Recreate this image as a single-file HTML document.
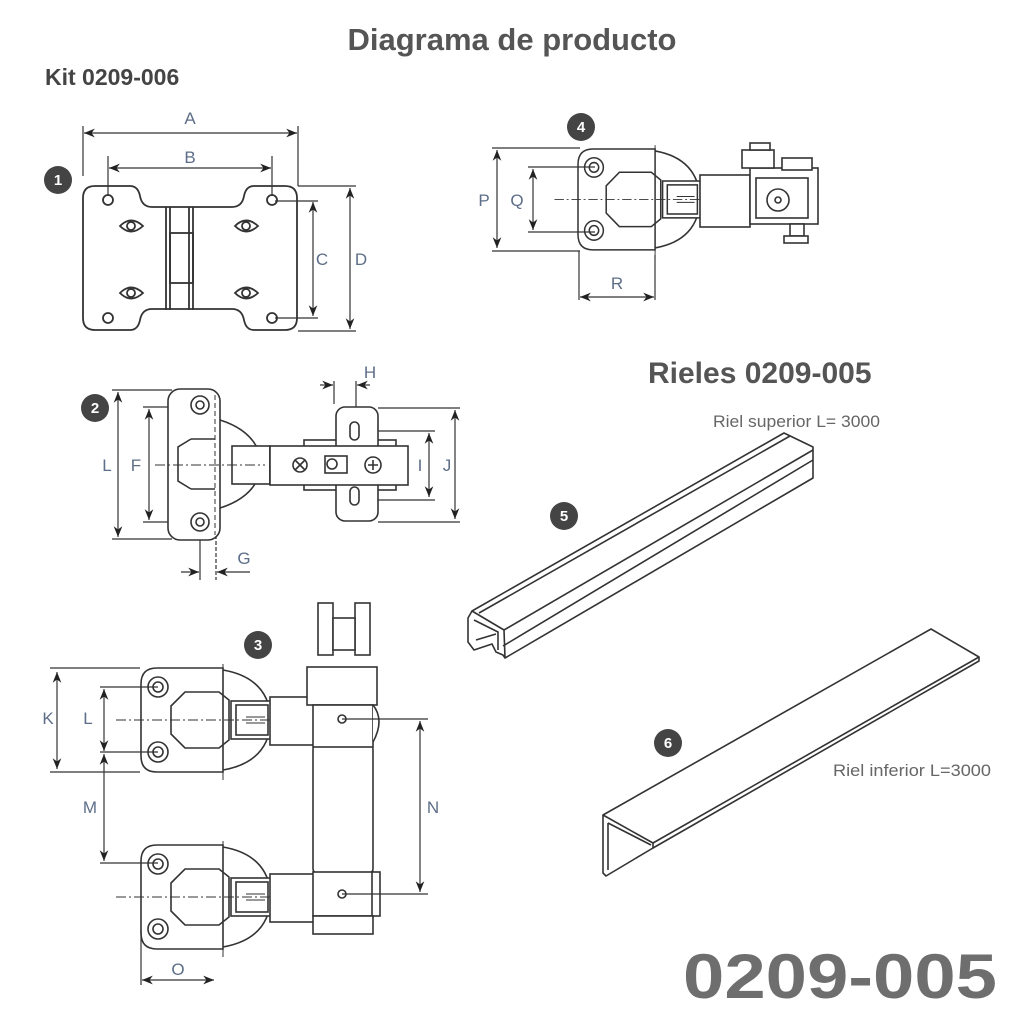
<!DOCTYPE html>
<html><head><meta charset="utf-8"><style>html,body{margin:0;padding:0;background:#fff}svg{display:block}</style></head>
<body>
<svg width="1024" height="1024" viewBox="0 0 1024 1024" xmlns="http://www.w3.org/2000/svg" font-family="Liberation Sans, sans-serif">
<defs>
<marker id="ar" viewBox="0 0 10 10" refX="10" refY="5" markerWidth="9" markerHeight="9" orient="auto-start-reverse"><path d="M0,1 L10,5 L0,9 L3,5Z" fill="#222"/></marker>
<g id="hinge" fill="none" stroke="#333" stroke-width="1.6">
 <path d="M82,0 H16 Q0,0 0,16 V88 Q0,104 16,104 H82 Z" fill="#fff"/>
 <circle cx="17" cy="19" r="10"/><circle cx="17" cy="19" r="5"/>
 <circle cx="17" cy="84" r="10"/><circle cx="17" cy="84" r="5"/>
 <path d="M30,38 L44,24 H78 L88,32 V72 L78,80 H44 L30,66 Z"/>
 <path d="M82,2 Q128,10 130,52 Q128,94 82,102"/>
 <rect x="90" y="33" width="40" height="38" fill="#fff"/>
 <rect x="95" y="37" width="32" height="30"/>
 <line x1="105" y1="49" x2="124" y2="49" stroke-width="1"/><line x1="105" y1="55" x2="124" y2="55" stroke-width="1"/>
 <line x1="-25" y1="52" x2="140" y2="52" stroke-width="1" stroke-dasharray="10,3,2,3"/>
 <line x1="82" y1="-4" x2="82" y2="112" stroke-width="1" stroke-dasharray="10,3,2,3"/>
</g>
</defs>
<g fill="#4a4a4a">
<text x="512" y="50" font-size="31" font-weight="bold" text-anchor="middle" fill="#555">Diagrama de producto</text>
<text x="45" y="85" font-size="23" font-weight="bold" fill="#444">Kit 0209-006</text>
<text x="648" y="383" font-size="30" font-weight="bold" fill="#555">Rieles 0209-005</text>
<text x="713" y="427" font-size="17" fill="#666" textLength="167" lengthAdjust="spacingAndGlyphs">Riel superior L= 3000</text>
<text x="833" y="776" font-size="17" fill="#666" textLength="158" lengthAdjust="spacingAndGlyphs">Riel inferior L=3000</text>
<text x="683" y="998" font-size="63" font-weight="bold" fill="#6e6e6e" textLength="314" lengthAdjust="spacingAndGlyphs">0209-005</text>
</g>
<g font-size="15" font-weight="bold" text-anchor="middle" fill="#fff">
<circle cx="58" cy="180" r="14" fill="#444"/><text x="58" y="185">1</text>
<circle cx="95" cy="408" r="14" fill="#444"/><text x="95" y="413">2</text>
<circle cx="258" cy="645" r="14" fill="#444"/><text x="258" y="650">3</text>
<circle cx="581" cy="127" r="14" fill="#444"/><text x="581" y="132">4</text>
<circle cx="564" cy="516" r="14" fill="#444"/><text x="564" y="521">5</text>
<circle cx="668" cy="743" r="14" fill="#444"/><text x="668" y="748">6</text>
</g>
<g font-size="17" fill="#5d6e88" text-anchor="middle">
<text x="190" y="124">A</text><text x="190" y="163">B</text><text x="322" y="265">C</text><text x="361" y="265">D</text>
<text x="107" y="471">L</text><text x="136" y="471">F</text><text x="244" y="564">G</text><text x="370" y="378">H</text><text x="420" y="471">I</text><text x="447" y="471">J</text>
<text x="484" y="206">P</text><text x="517" y="206">Q</text><text x="617" y="289">R</text>
<text x="48" y="724">K</text><text x="88" y="724">L</text><text x="90" y="813">M</text><text x="433" y="813">N</text><text x="178" y="975">O</text>
</g>
<g stroke="#333" stroke-width="1.2" fill="none">
<line x1="84" y1="133" x2="297" y2="133" marker-start="url(#ar)" marker-end="url(#ar)"/>
<line x1="83" y1="126" x2="83" y2="176"/><line x1="298" y1="126" x2="298" y2="186"/>
<line x1="109" y1="168" x2="271" y2="168" marker-start="url(#ar)" marker-end="url(#ar)"/>
<line x1="108" y1="156" x2="108" y2="196"/><line x1="272" y1="156" x2="272" y2="196"/>
<line x1="313" y1="202" x2="313" y2="316" marker-start="url(#ar)" marker-end="url(#ar)"/>
<line x1="275" y1="201" x2="318" y2="201"/><line x1="275" y1="318" x2="318" y2="318"/>
<line x1="350" y1="188" x2="350" y2="329" marker-start="url(#ar)" marker-end="url(#ar)"/>
<line x1="298" y1="186" x2="356" y2="186"/><line x1="298" y1="331" x2="356" y2="331"/>
</g>
<g stroke="#333" stroke-width="1.8" fill="none">
<path d="M95,186 H130 Q138,186 140,196 Q142,207 152,207 H232 Q242,207 244,196 Q246,186 254,186 H285 Q297,186 297,198 V318 Q297,330 285,330 H254 Q246,330 244,320 Q242,309 232,309 H152 Q142,309 140,320 Q138,330 130,330 H95 Q83,330 83,318 V198 Q83,186 95,186Z"/>
<circle cx="108" cy="200" r="5"/><circle cx="272" cy="200" r="5"/><circle cx="108" cy="318" r="5"/><circle cx="272" cy="318" r="5"/>
<g id="eye"><path d="M120,226 Q131,215 143,226 Q131,237 120,226Z"/><circle cx="131" cy="226" r="4"/></g>
<use href="#eye" x="115"/><use href="#eye" y="67"/><use href="#eye" x="115" y="67"/>
<line x1="166" y1="207" x2="166" y2="310"/><line x1="170" y1="207" x2="170" y2="310"/>
<line x1="189" y1="207" x2="189" y2="310"/><line x1="193" y1="207" x2="193" y2="310"/>
<rect x="170" y="233" width="23" height="50"/>
</g>
<g stroke="#333" stroke-width="1.2" fill="none">
<line x1="118" y1="392" x2="118" y2="537" marker-start="url(#ar)" marker-end="url(#ar)"/>
<line x1="112" y1="390" x2="172" y2="390"/><line x1="112" y1="539" x2="172" y2="539"/>
<line x1="149" y1="409" x2="149" y2="520" marker-start="url(#ar)" marker-end="url(#ar)"/>
<line x1="143" y1="407" x2="200" y2="407"/><line x1="143" y1="522" x2="200" y2="522"/>
<line x1="200" y1="522" x2="200" y2="580"/><line x1="216" y1="535" x2="216" y2="580" stroke-dasharray="4,2"/>
<line x1="181" y1="572" x2="199" y2="572" marker-end="url(#ar)"/><line x1="250" y1="572" x2="217" y2="572" marker-end="url(#ar)"/>
<line x1="320" y1="385" x2="333" y2="385" marker-end="url(#ar)"/><line x1="370" y1="385" x2="357" y2="385" marker-end="url(#ar)"/>
<line x1="334" y1="381" x2="334" y2="404"/><line x1="356" y1="381" x2="356" y2="425"/>
<line x1="429" y1="433" x2="429" y2="497" marker-start="url(#ar)" marker-end="url(#ar)"/>
<line x1="358" y1="431" x2="435" y2="431"/><line x1="358" y1="500" x2="435" y2="500"/>
<line x1="455" y1="410" x2="455" y2="519" marker-start="url(#ar)" marker-end="url(#ar)"/>
<line x1="378" y1="408" x2="460" y2="408"/><line x1="378" y1="522" x2="460" y2="522"/>
</g>
<g stroke="#333" stroke-width="1.6" fill="none">
<path d="M220,420 Q258,432 262,464 Q258,496 220,508"/>
<rect x="168" y="389" width="52" height="151" rx="12" fill="#fff"/>
<circle cx="200" cy="405" r="9"/><circle cx="200" cy="405" r="4"/>
<circle cx="200" cy="522" r="9"/><circle cx="200" cy="522" r="4"/>
<path d="M191,439 L178,447 V481 L191,489"/><path d="M191,439 H215 M191,489 H215"/>
<line x1="215" y1="395" x2="215" y2="535" stroke-width="1" stroke-dasharray="5,3"/>
<rect x="232" y="446" width="38" height="38" fill="#fff"/>
<rect x="270" y="447" width="55" height="37" fill="#fff"/>
<rect x="304" y="440" width="92" height="10"/><rect x="304" y="480" width="92" height="10"/>
<rect x="336" y="407" width="42" height="114" rx="9" fill="#fff"/>
<rect x="270" y="446" width="138" height="39" fill="#fff"/>
<rect x="350" y="422" width="9" height="18" rx="4.5"/><rect x="350" y="487" width="9" height="18" rx="4.5"/>
<circle cx="300" cy="465" r="7"/><path d="M295,460 L305,470 M305,460 L295,470"/>
<rect x="325" y="456" width="22" height="17"/><circle cx="332" cy="464" r="5"/>
<circle cx="373" cy="465" r="8"/><path d="M368,465 H378 M373,460 V470"/>
<line x1="155" y1="465" x2="265" y2="465" stroke-width="1" stroke-dasharray="10,3,2,3"/>
</g>
<use href="#hinge" transform="translate(578,149) scale(0.94,0.97)"/>
<g stroke="#333" stroke-width="1.6" fill="#fff">
<rect x="700" y="175" width="50" height="52"/>
<rect x="750" y="168" width="68" height="56"/>
<rect x="756" y="178" width="52" height="40"/>
<circle cx="778" cy="200" r="11"/><circle cx="778" cy="200" r="3"/>
<rect x="742" y="150" width="32" height="18"/><rect x="750" y="143" width="20" height="7"/>
<rect x="782" y="158" width="30" height="12"/>
<rect x="790" y="224" width="14" height="12"/><rect x="784" y="236" width="24" height="7"/>
</g>
<g stroke="#333" stroke-width="1.2" fill="none">
<line x1="497" y1="150" x2="497" y2="248" marker-start="url(#ar)" marker-end="url(#ar)"/>
<line x1="492" y1="148" x2="580" y2="148"/><line x1="492" y1="251" x2="580" y2="251"/>
<line x1="533" y1="169" x2="533" y2="230" marker-start="url(#ar)" marker-end="url(#ar)"/>
<line x1="528" y1="167" x2="595" y2="167"/><line x1="528" y1="232" x2="595" y2="232"/>
<line x1="579" y1="251" x2="579" y2="300"/><line x1="655" y1="255" x2="655" y2="300"/>
<line x1="580" y1="297" x2="654" y2="297" marker-start="url(#ar)" marker-end="url(#ar)"/>
</g>
<use href="#hinge" transform="translate(141,668)"/>
<use href="#hinge" transform="translate(141,845)"/>
<g stroke="#333" stroke-width="1.6" fill="#fff">
<rect x="318" y="603" width="15" height="52"/><rect x="355" y="603" width="15" height="52"/>
<rect x="333" y="618" width="22" height="32"/>
<rect x="270" y="697" width="45" height="48"/>
<rect x="270" y="874" width="45" height="48"/>
<rect x="313" y="745" width="60" height="128" rx="4"/>
<rect x="307" y="667" width="70" height="38"/>
<rect x="313" y="705" width="60" height="42"/><path d="M373,705 Q385,720 373,742"/>
<rect x="313" y="872" width="60" height="44"/><path d="M373,880 Q385,895 373,910"/>
<rect x="372" y="872" width="8" height="44"/>
<rect x="313" y="916" width="60" height="18"/>
<circle cx="342" cy="719" r="4"/><circle cx="342" cy="894" r="4"/>
</g>
<g stroke="#333" stroke-width="1.2" fill="none">
<line x1="57" y1="672" x2="57" y2="769" marker-start="url(#ar)" marker-end="url(#ar)"/>
<line x1="50" y1="668" x2="140" y2="668"/><line x1="50" y1="772" x2="140" y2="772"/>
<line x1="104" y1="689" x2="104" y2="751" marker-start="url(#ar)" marker-end="url(#ar)"/>
<line x1="100" y1="687" x2="158" y2="687"/><line x1="100" y1="752" x2="158" y2="752"/>
<line x1="104" y1="754" x2="104" y2="861" marker-start="url(#ar)" marker-end="url(#ar)"/>
<line x1="100" y1="863" x2="158" y2="863"/>
<line x1="342" y1="719" x2="428" y2="719"/><line x1="342" y1="894" x2="428" y2="894"/>
<line x1="420" y1="721" x2="420" y2="892" marker-start="url(#ar)" marker-end="url(#ar)"/>
<line x1="141" y1="930" x2="141" y2="985"/>
<line x1="142" y1="980" x2="214" y2="980" marker-start="url(#ar)" marker-end="url(#ar)"/>
</g>
<g stroke="#333" stroke-width="1.6" fill="none" stroke-linejoin="round">
<path d="M472,611 L784,433 L813,447 L813,478 L505,658"/>
<path d="M472,611 L468,618 L468,642 L474,650 L492,644 L496,652 L503,655 L505,658 L504,630 Z"/>
<path d="M474,620 L498,632 L498,650"/>
<path d="M504,630 L813,450"/>
<path d="M503,646 L813,460"/>
<path d="M476,640 L496,634"/>
<path d="M479,613 L790,436"/>
</g>
<g stroke="#333" stroke-width="1.6" fill="none" stroke-linejoin="round">
<path d="M603,815 L931,629 L979,657 L979,661 L653,848 L653,843 L603,815 Z"/>
<path d="M603,815 L603,873 L606,876 L653,848"/>
<path d="M608,823 L608,870 M608,823 L651,845"/>
<path d="M653,843 L979,657"/>
</g>
</svg>
</body></html>
